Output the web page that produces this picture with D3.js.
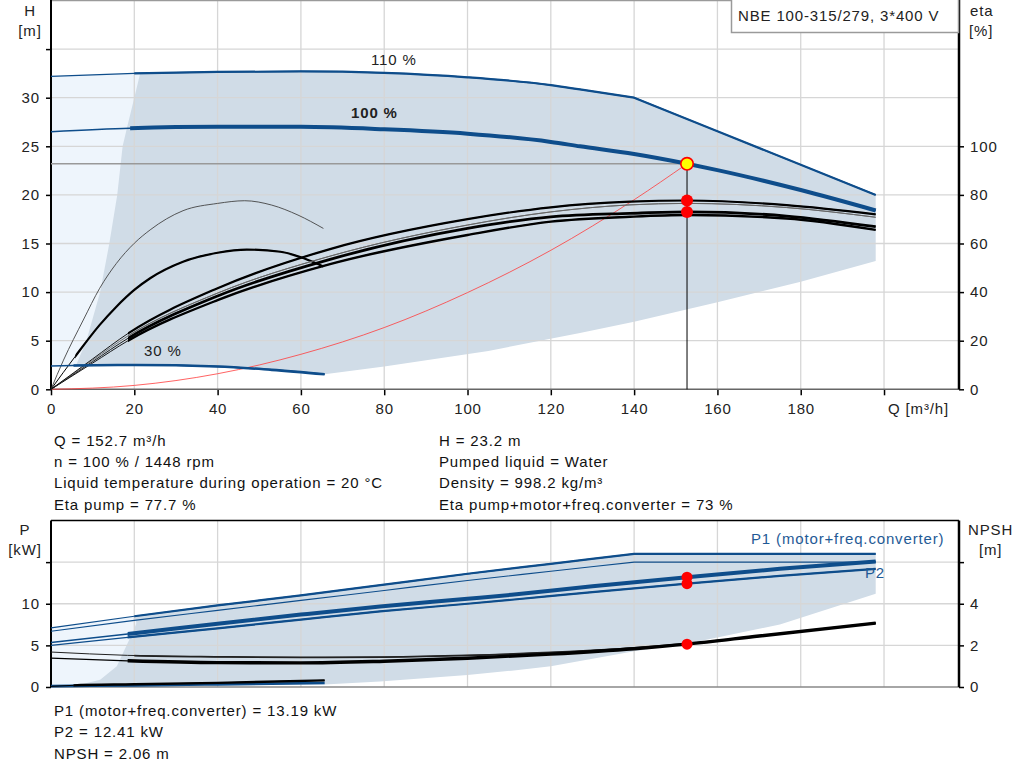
<!DOCTYPE html>
<html>
<head>
<meta charset="utf-8">
<script src="https://cdn.jsdelivr.net/npm/d3@7"></script>
<style>
  body { margin: 0; background: #fff; }
  svg { display: block; font-family: Arial, "Liberation Sans", sans-serif; }
  svg text { letter-spacing: 0.85px; }
</style>
</head>
<body>
<svg id="chart" width="1024" height="781"></svg>
<script>
// ---- ticks
const qTicks = [0, 20, 40, 60, 80, 100, 120, 140, 160, 180, 200];
const hTicks = [0, 5, 10, 15, 20, 25, 30, 35];
const etaTicks = [0, 20, 40, 60, 80, 100];
const pTicks = [0, 5, 10, 15];
const npshTicks = [0, 2, 4, 6];

// ---- head curves (Q in m3/h, H in m)
const h110Q = [0, 20, 40, 60, 80, 100, 120, 127, 140, 160, 180, 198];
const h110H = [32.2, 32.5, 32.65, 32.7, 32.55, 32.1, 31.3, 30.85, 30.0, 26.55, 23.1, 20.0];
const h100Q = [0, 19, 40, 60, 80, 100, 120, 127, 140, 152.7, 160, 180, 198];
const h100H = [26.5, 26.85, 27.0, 27.0, 26.75, 26.3, 25.45, 25.0, 24.2, 23.2, 22.55, 20.5, 18.4];
const h30Q = [0, 5.4, 20, 40, 53, 65.7];
const h30H = [2.4, 2.45, 2.5, 2.35, 2.0, 1.55];
const sysQ = [0, 20, 40, 60, 80, 100, 120, 140, 152.7];
const sysH = [0, 0.4, 1.6, 3.6, 6.35, 9.95, 14.3, 19.5, 23.2];

// operating area outline (top chart)
const areaLeftQ = [6.0, 8.5, 11.8, 14, 15.9, 17.2, 18.3, 20, 21.4];
const areaLeftH = [2.45, 5, 10, 15, 20, 25, 27, 30, 32.5];
const areaLowQ = [65.7, 80, 105, 127, 140, 160, 180, 198];
const areaLowH = [1.55, 2.35, 3.95, 5.8, 6.95, 8.95, 11.07, 13.2];

// ---- efficiency curves (%)
const etaQ = [0, 10, 18.5, 40, 67, 100, 120, 139, 152.7, 176.6, 198];
const etaPump100 = [0, 12.5, 23, 41.6, 57.7, 70, 74.9, 77.2, 77.7, 75.8, 72.0];
const etaPumpAlt = [0, 12, 22, 39.6, 54.8, 67.6, 73.0, 75.9, 76.5, 74.8, 70.8];
const etaTotal100 = [0, 11.4, 21, 38.4, 53.5, 66.2, 71.0, 72.4, 73.0, 71.3, 66.9];
const etaTotalAlt = [0, 10.8, 20, 36.7, 51.5, 63.5, 69.0, 71.0, 71.7, 70.3, 65.6];
const eta30Q = [0, 3, 7.75, 11.7, 15.7, 20, 23.8, 31.7, 40, 46.5, 53, 59.3, 65.4];
const etaPump30 = [0, 12, 28.5, 41.6, 51.8, 60.1, 65.6, 73.5, 76.5, 77.6, 75.8, 71.7, 66.2];
const etaTot30Q = [0, 5.8, 11.7, 15.7, 20, 23.8, 31.7, 40, 47, 55.1, 60.7, 65.4];
const etaTotal30 = [0, 13.5, 26.5, 34, 40.9, 45.7, 52.5, 56.2, 57.5, 56.6, 53.9, 50.5];

// ---- power curves (kW) and NPSH (m)
const pQ = [0, 18.4, 40, 60, 79, 100, 110.6, 130, 152.7, 175, 198];
const p1Main = [5.35, 6.36, 7.6, 8.7, 9.68, 10.6, 11.08, 12.1, 13.19, 14.2, 15.08];
const p2Main = [5.0, 5.95, 7.05, 8.1, 9.08, 10.0, 10.48, 11.4, 12.41, 13.35, 14.2];
const pMaxQ = [0, 20, 40, 60, 80, 100, 120, 140, 198];
const p1Max = [7.1, 8.5, 9.8, 11.0, 12.3, 13.6, 14.8, 16.0, 16.0];
const p2Max = [6.7, 8.0, 9.2, 10.4, 11.6, 12.8, 13.9, 15.0, 15.0];
const npshQ = [0, 18.4, 40, 60, 80, 100, 120, 140, 152.7, 170, 198];
const npshMain = [1.39, 1.26, 1.17, 1.16, 1.24, 1.38, 1.58, 1.84, 2.06, 2.45, 3.07];
const npshAlt = [1.68, 1.52, 1.45, 1.42, 1.44, 1.52, 1.66, 1.88, 2.08, 2.45, 3.07];
const low30Q = [0, 5.4, 20, 40, 65.7];
const p30 = [0.1, 0.13, 0.2, 0.32, 0.48];
const npsh30 = [0.03, 0.08, 0.13, 0.2, 0.32];

// operating area outline (power chart)
const pAreaLeftQ = [5.4, 11.8, 15.8, 18.7, 19.8, 20.5, 20];
const pAreaLeftP = [0.1, 0.88, 2.48, 5.6, 6.7, 7.7, 8.5];
const pAreaLowQ = [5.4, 20, 40, 65.7, 79, 100, 110.6, 120, 140, 152.7, 175, 198];
const pAreaLowP = [0.1, 0.13, 0.2, 0.3, 0.67, 1.45, 1.96, 2.5, 4.3, 5.2, 7.5, 11.2];

// ---- duty point
const opQ = 152.7, opH = 23.2, opEtaPump = 77.7, opEtaTotal = 73;
const opP1 = 13.19, opP2 = 12.41, opNpsh = 2.06;

const title = "NBE 100-315/279, 3*400 V";
const infoLeft = ["Q = 152.7 m³/h", "n = 100 % / 1448 rpm",
  "Liquid temperature during operation = 20 °C", "Eta pump = 77.7 %"];
const infoRight = ["H = 23.2 m", "Pumped liquid = Water", "Density = 998.2 kg/m³",
  "Eta pump+motor+freq.converter = 73 %"];
const infoBottom = ["P1 (motor+freq.converter) = 13.19 kW", "P2 = 12.41 kW", "NPSH = 2.06 m"];

const BLUE = "#0e4d8b", GRAYFILL = "#d0dce7", LIGHTFILL = "#eef5fc", GRID = "#d6d6d6";

const svg = d3.select("#chart");
const x = d3.scaleLinear().domain([0, 218]).range([51, 959]);
const yH = d3.scaleLinear().domain([0, 40]).range([389.3, 0.5]);
const yEta = d3.scaleLinear().domain([0, 160]).range([389.3, 0.5]);
const yP = d3.scaleLinear().domain([0, 20]).range([687, 520.5]);
const yN = d3.scaleLinear().domain([0, 8]).range([687, 520.5]);

const zip = (qs, vs) => qs.map((q, i) => [q, vs[i]]);

function polygon(g, pts, y, fill) {
    g.append("path")
        .attr("d", d3.line().x(d => x(d[0])).y(d => y(d[1]))(pts) + "Z")
        .attr("fill", fill);
}

let clipCount = 0;
function clipFrom(q) {
    let id = "clip" + (clipCount++);
    svg.append("clipPath").attr("id", id).append("rect")
        .attr("x", x(q)).attr("y", 0).attr("width", 1024).attr("height", 781);
    return `url(#${id})`;
}

function drawCurve(g, pts, y, o) {
    let smooth = d3.line().x(d => x(d[0])).y(d => y(d[1])).curve(d3.curveMonotoneX);
    let straight = d3.line().x(d => x(d[0])).y(d => y(d[1]));
    let d;
    if (o.kinkAt != null) {
        d = smooth(pts.filter(p => p[0] <= o.kinkAt)) +
            straight(pts.filter(p => p[0] >= o.kinkAt)).replace(/^M/, "L");
    } else {
        d = smooth(pts);
    }
    let base = g.append("path").attr("d", d).attr("fill", "none")
        .attr("stroke", o.color).attr("stroke-linejoin", "round");
    if (o.thickFrom != null) {
        base.attr("stroke-width", o.thin || 1);
        g.append("path").attr("d", d).attr("fill", "none")
            .attr("stroke", o.color).attr("stroke-width", o.width)
            .attr("stroke-linejoin", "round")
            .attr("clip-path", clipFrom(o.thickFrom));
    } else {
        base.attr("stroke-width", o.width);
    }
}

function grid(g, yScale, yVals, yTop, yBottom) {
    g.selectAll(null).data(qTicks.slice(1)).enter().append("line")
        .attr("x1", d => x(d)).attr("x2", d => x(d))
        .attr("y1", yTop).attr("y2", yBottom)
        .attr("stroke", GRID).attr("stroke-width", 1.3);
    g.selectAll(null).data(yVals).enter().append("line")
        .attr("x1", x(0)).attr("x2", x(218))
        .attr("y1", d => yScale(d)).attr("y2", d => yScale(d))
        .attr("stroke", GRID).attr("stroke-width", 1.3);
}

function styleAxis(sel) {
    sel.select(".domain").remove();
    sel.selectAll(".tick line").attr("stroke", "#000").attr("stroke-width", 1.5);
    sel.selectAll(".tick text").attr("fill", "#222").style("font-size", "15px")
        .style("font-family", "Arial, 'Liberation Sans', sans-serif");
}

function label(g, txt, px, py, o) {
    o = o || {};
    g.append("text").attr("x", px).attr("y", py)
        .attr("text-anchor", o.anchor || "start")
        .attr("fill", o.color || "#222")
        .attr("font-weight", o.bold ? "bold" : null)
        .style("font-size", (o.size || 15) + "px")
        .text(txt);
}

// ================= top chart: H and eta =================
let topG = svg.append("g");

// light region and operating area
let lightTop = zip(h110Q, h110H).filter(p => p[0] <= 20).concat([[21.4, 32.5], [21.4, 2.5]])
    .concat(zip(h30Q, h30H).filter(p => p[0] <= 20).reverse());
polygon(topG, lightTop, yH, LIGHTFILL);

let areaTop = zip(areaLeftQ, areaLeftH)
    .concat(zip(h110Q, h110H).filter(p => p[0] > 21.4))
    .concat(zip(areaLowQ, areaLowH).reverse())
    .concat(zip(h30Q, h30H).filter(p => p[0] > 6 && p[0] < 65.7).reverse());
polygon(topG, areaTop, yH, GRAYFILL);

grid(topG, yH, hTicks.slice(1), yH(40), yH(0));
topG.append("line").attr("x1", x(0)).attr("x2", x(218)).attr("y1", yH(40)).attr("y2", yH(40))
    .attr("stroke", "#9a9a9a").attr("stroke-width", 1.5);

// axes
topG.append("g").attr("transform", `translate(${x(0)},0)`)
    .call(d3.axisLeft(yH).tickValues(hTicks).tickSize(5).tickPadding(6)
        .tickFormat(d => d === 35 ? "" : d))
    .call(styleAxis);
topG.append("g").attr("transform", `translate(${x(218)},0)`)
    .call(d3.axisRight(yEta).tickValues(etaTicks).tickSize(5).tickPadding(6))
    .call(styleAxis);
topG.append("g").attr("transform", `translate(0,${yH(0)})`)
    .call(d3.axisBottom(x).tickValues(qTicks).tickSize(6).tickPadding(8)
        .tickFormat(d => d === 200 ? "" : d))
    .call(styleAxis);
topG.append("line").attr("x1", x(0)).attr("x2", x(218)).attr("y1", yH(0)).attr("y2", yH(0))
    .attr("stroke", "#666").attr("stroke-width", 1.5);
topG.append("line").attr("x1", x(0)).attr("x2", x(0)).attr("y1", 0).attr("y2", yH(0))
    .attr("stroke", "#000").attr("stroke-width", 2);
topG.append("line").attr("x1", x(218)).attr("x2", x(218)).attr("y1", 0).attr("y2", yH(0))
    .attr("stroke", "#000").attr("stroke-width", 2.5);

// duty point guide lines
topG.append("line").attr("x1", x(0)).attr("x2", x(opQ)).attr("y1", yH(opH)).attr("y2", yH(opH))
    .attr("stroke", "#999").attr("stroke-width", 1.5);
topG.append("line").attr("x1", x(opQ)).attr("x2", x(opQ)).attr("y1", yH(opH)).attr("y2", yH(0))
    .attr("stroke", "#000").attr("stroke-width", 1);

// system curve
drawCurve(topG, zip(sysQ, sysH), yH, { color: "#ff3b3b", width: 0.8 });

// eta curves
drawCurve(topG, zip(eta30Q, etaPump30), yEta, { color: "#444", width: 0.9 });
drawCurve(topG, zip(etaTot30Q, etaTotal30), yEta, { color: "#000", width: 2.2, thin: 1, thickFrom: 5.8 });
drawCurve(topG, zip(etaQ, etaTotalAlt), yEta, { color: "#000", width: 2.4, thin: 0.9, thickFrom: 18.5 });
drawCurve(topG, zip(etaQ, etaTotal100), yEta, { color: "#000", width: 2.8, thin: 0.9, thickFrom: 18.5 });
drawCurve(topG, zip(etaQ, etaPumpAlt), yEta, { color: "#666", width: 1, thin: 0.9, thickFrom: 18.5 });
drawCurve(topG, zip(etaQ, etaPump100), yEta, { color: "#000", width: 2.2, thin: 0.9, thickFrom: 18.5 });

// head curves
drawCurve(topG, zip(h110Q, h110H), yH, { color: BLUE, width: 2.2, thin: 1.3, thickFrom: 20, kinkAt: 140 });
drawCurve(topG, zip(h100Q, h100H), yH, { color: BLUE, width: 4, thin: 1.5, thickFrom: 19 });
drawCurve(topG, zip(h30Q, h30H), yH, { color: BLUE, width: 2.6, thin: 1.5, thickFrom: 5.4 });

// duty point markers
topG.append("circle").attr("cx", x(opQ)).attr("cy", yEta(opEtaPump)).attr("r", 6).attr("fill", "#ff0000");
topG.append("circle").attr("cx", x(opQ)).attr("cy", yEta(opEtaTotal)).attr("r", 6).attr("fill", "#ff0000");
topG.append("circle").attr("cx", x(opQ)).attr("cy", yH(opH)).attr("r", 6.2)
    .attr("fill", "#ffff00").attr("stroke", "#ff0000").attr("stroke-width", 1.6);

// curve labels
label(topG, "110 %", 371, 64.5);
label(topG, "100 %", 351, 117.5, { bold: true });
label(topG, "30 %", 144, 356);

// axis titles
label(topG, "H", 30, 15.5, { anchor: "middle" });
label(topG, "[m]", 30, 35.5, { anchor: "middle" });
label(topG, "eta", 970, 15.5);
label(topG, "[%]", 969, 35.5);
label(topG, "Q [m³/h]", 888, 413.5);

// title box
topG.append("rect").attr("x", 731.5).attr("y", -2).attr("width", 227).attr("height", 34.5)
    .attr("fill", "#fff").attr("stroke", "#9a9a9a").attr("stroke-width", 1.5);
label(topG, title, 738, 20.5);

// info text
infoLeft.forEach((t, i) => label(svg, t, 54, 446 + i * 21.2, { color: "#111" }));
infoRight.forEach((t, i) => label(svg, t, 439, 446 + i * 21.2, { color: "#111" }));

// ================= bottom chart: P and NPSH =================
let botG = svg.append("g");

let lightBot = [[0, 0]].concat(zip(pMaxQ, p1Max).filter(p => p[0] <= 20)).concat([[21, 8.5], [21, 0]]);
polygon(botG, lightBot, yP, LIGHTFILL);

let areaBot = zip(pAreaLeftQ, pAreaLeftP)
    .concat(zip(pMaxQ, p1Max).filter(p => p[0] > 20))
    .concat(zip(pAreaLowQ, pAreaLowP).reverse());
polygon(botG, areaBot, yP, GRAYFILL);

grid(botG, yP, pTicks.slice(1), yP(20), yP(0));

botG.append("g").attr("transform", `translate(${x(0)},0)`)
    .call(d3.axisLeft(yP).tickValues(pTicks).tickSize(5).tickPadding(6)
        .tickFormat(d => d === 15 ? "" : d))
    .call(styleAxis);
botG.append("g").attr("transform", `translate(${x(218)},0)`)
    .call(d3.axisRight(yN).tickValues(npshTicks).tickSize(5).tickPadding(6)
        .tickFormat(d => d === 6 ? "" : d))
    .call(styleAxis);
botG.append("line").attr("x1", x(0)).attr("x2", x(218)).attr("y1", yP(0)).attr("y2", yP(0))
    .attr("stroke", "#888").attr("stroke-width", 1.5);
botG.append("line").attr("x1", x(0)).attr("x2", x(218)).attr("y1", yP(20)).attr("y2", yP(20))
    .attr("stroke", "#000").attr("stroke-width", 1.5);
botG.append("line").attr("x1", x(0)).attr("x2", x(0)).attr("y1", yP(20)).attr("y2", yP(0))
    .attr("stroke", "#000").attr("stroke-width", 2);
botG.append("line").attr("x1", x(218)).attr("x2", x(218)).attr("y1", yP(20)).attr("y2", yP(0))
    .attr("stroke", "#000").attr("stroke-width", 2.5);

// NPSH curves
drawCurve(botG, zip(npshQ, npshAlt), yN, { color: "#222", width: 1.8, thin: 1, thickFrom: 20 });
drawCurve(botG, zip(npshQ, npshMain), yN, { color: "#000", width: 3.4, thin: 1.2, thickFrom: 18.4 });

// power curves
drawCurve(botG, zip(low30Q, p30), yP, { color: BLUE, width: 2.6 });
drawCurve(botG, zip(low30Q, npsh30), yN, { color: "#000", width: 2.4, thin: 1, thickFrom: 5.4 });
drawCurve(botG, zip(pMaxQ, p2Max), yP, { color: BLUE, width: 1.1, kinkAt: 140 });
drawCurve(botG, zip(pMaxQ, p1Max), yP, { color: BLUE, width: 2.2, thin: 1.2, thickFrom: 20, kinkAt: 140 });
drawCurve(botG, zip(pQ, p2Main), yP, { color: BLUE, width: 2.2, thin: 1.2, thickFrom: 18.4 });
drawCurve(botG, zip(pQ, p1Main), yP, { color: BLUE, width: 4, thin: 1.4, thickFrom: 18.4 });

botG.append("circle").attr("cx", x(opQ)).attr("cy", yP(opP1)).attr("r", 5.5).attr("fill", "#ff0000");
botG.append("circle").attr("cx", x(opQ)).attr("cy", yP(opP2)).attr("r", 5.5).attr("fill", "#ff0000");
botG.append("circle").attr("cx", x(opQ)).attr("cy", yN(opNpsh)).attr("r", 5.5).attr("fill", "#ff0000");

label(botG, "P1 (motor+freq.converter)", 751, 544, { color: "#1f5a96" });
label(botG, "P2", 865, 578, { color: "#1f5a96" });
label(botG, "P", 25, 534.5, { anchor: "middle" });
label(botG, "[kW]", 25, 554.5, { anchor: "middle" });
label(botG, "NPSH", 968, 534.5);
label(botG, "[m]", 979, 554.5);

infoBottom.forEach((t, i) => label(svg, t, 54, 715.5 + i * 21.5, { color: "#111" }));
</script>
</body>
</html>
